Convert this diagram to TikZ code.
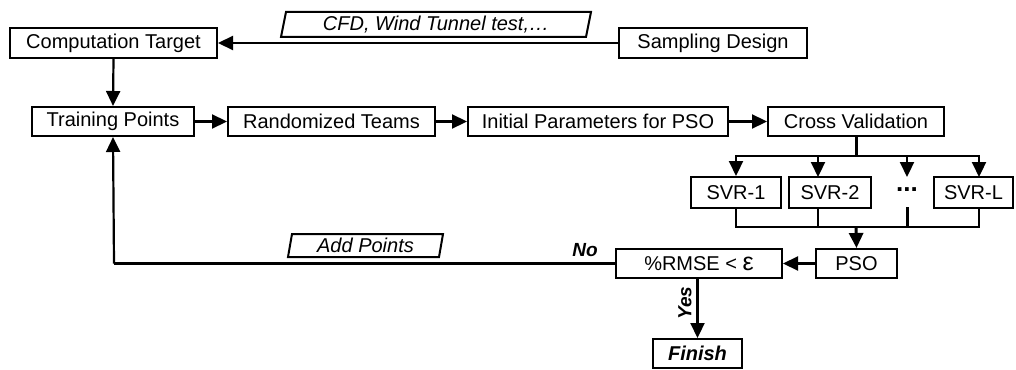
\documentclass[tikz,border=0pt]{standalone}
\usepackage{fontspec}
\setmainfont{Liberation Sans}
\usetikzlibrary{arrows.meta}
\tikzset{
  box/.style={draw, line width=2pt, inner sep=0pt, minimum height=29pt, font=\fontsize{20}{24}\selectfont},
  lbl/.style={inner sep=0pt, font=\fontsize{20}{24}\selectfont\itshape},
  bi/.style={inner sep=0pt, font=\fontsize{19}{22}\selectfont\bfseries\itshape},
  conn/.style={line width=2.2pt},
  arr/.style={line width=2.2pt, -{Triangle[length=15pt,width=14pt]}},
  para/.style={line width=2pt},
}
\begin{document}
\begin{tikzpicture}[x=1pt,y=-1pt]
\useasboundingbox (0,0) rectangle (1016,369);
% nodes
\node[box, minimum width=207pt, minimum height=30pt] (comp) at (113.5,43) {Computation Target};
\node[box, minimum width=188pt, minimum height=30pt] (samp) at (713,43) {Sampling Design};
\node[lbl] (cfd) at (436,24.5) {CFD, Wind Tunnel test,\ldots};
\node[box, minimum width=162pt] (train) at (113,121.5) {Training Points};
\node[box, minimum width=207pt] (rand) at (331.5,121.5) {Randomized Teams};
\node[box, minimum width=260pt] (init) at (598,121.5) {Initial Parameters for PSO};
\node[box, minimum width=176pt] (cross) at (856,121.5) {Cross Validation};
\node[box, minimum width=90pt, minimum height=31pt] (svr1) at (736,192.5) {SVR-1};
\node[box, minimum width=82pt, minimum height=31pt] (svr2) at (830,192.5) {SVR-2};
\node[inner sep=0pt, font=\fontsize{26}{26}\selectfont\bfseries] (dots) at (907,190) {...};
\node[box, minimum width=79pt, minimum height=31pt] (svrL) at (973.5,192.5) {SVR-L};
\node[box, minimum width=81pt] (pso) at (856.5,263.5) {PSO};
\node[box, minimum width=166pt] (rmse) at (699,263.5) {\%RMSE < {\fontsize{25}{24}\selectfont ε}};
\node[box, minimum width=89pt, font=\fontsize{20}{24}\selectfont\bfseries\itshape] (finish) at (697.5,353.5) {Finish};
\node[lbl] (add) at (365.5,245.5) {Add Points};
\node[bi] (no) at (585,250) {No};
\node[bi, rotate=90] (yes) at (685,303) {Yes};
% parallelograms
\draw[para] (281,37) -- (286,12) -- (591,12) -- (586,37) -- cycle;
\draw[para] (288,257) -- (292,234) -- (443,234) -- (439,257) -- cycle;
% coordinates
\coordinate (busT) at (856,156);
\coordinate (busB) at (856,227);
\coordinate (dotsTop) at (907,177);
\coordinate (dotsBot) at (907,207);
\coordinate (ret) at (114,263.5);
% connectors
\draw[arr] (samp.west) -- (comp.east);
\draw[arr] (comp.south) -- (train.north);
\draw[arr] (train.east) -- (rand.west);
\draw[arr] (rand.east) -- (init.west);
\draw[arr] (init.east) -- (cross.west);
\draw[line width=3pt] (cross.south) -- (busT);
\draw[conn] (735,156) -- (980,156);
\draw[arr] (736,156) -- (svr1.north);
\draw[arr] (818,156) -- (818,177);
\draw[arr] (907,156) -- (dotsTop);
\draw[arr] (979,156) -- (979,177);
\draw[conn] (svr1.south) -- (736,227);
\draw[conn] (818,208) -- (818,227);
\draw[line width=3pt] (dotsBot) -- (907,227);
\draw[conn] (979,208) -- (979,227);
\draw[conn] (735,227) -- (980,227);
\draw[arr, line width=3pt] (busB) -- (pso.north);
\draw[arr] (pso.west) -- (rmse.east);
\draw[conn] (rmse.west) -- (ret);
\draw[arr] (ret) -- (train.south);
\draw[arr] (rmse.south -| finish.north) -- (finish.north);
\end{tikzpicture}
\end{document}
